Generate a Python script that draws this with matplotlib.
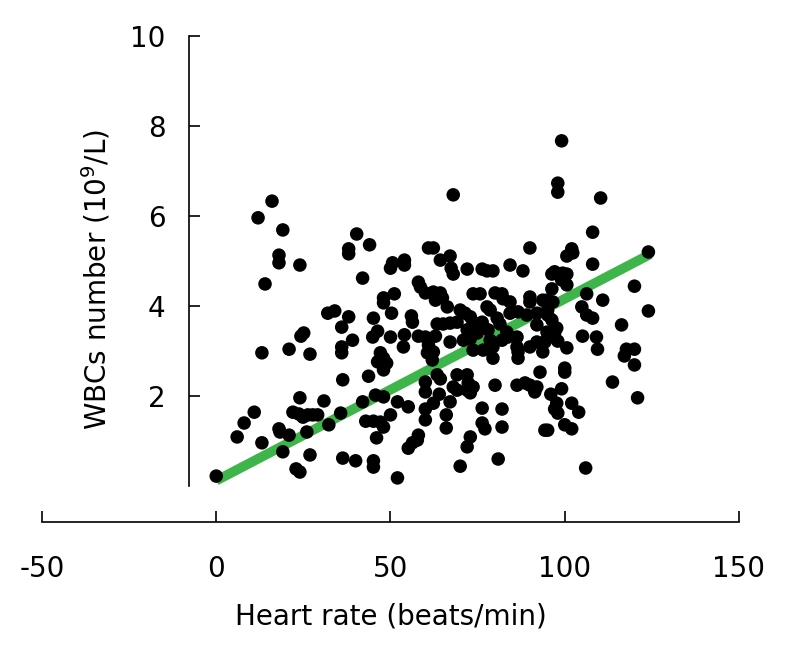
import numpy as np
from matplotlib import pyplot as plt

# heart rate (beats/min) and WBCs number (10^9/L)
heart_rate = [
    0, 6, 8, 10.9, 13.1, 18, 18.3, 20.9, 19.1, 24, 22, 23.7, 24.9, 26.3, 27.7, 26, 26.9, 22.9, 24,
    16, 12, 19.1, 18, 18, 24, 14, 24.3, 25.1, 13.1, 20.9, 26.9,
    40.3, 44, 38, 60.9, 68, 62.3, 90, 99.1, 98, 98, 110.3, 108, 102, 124,
    38, 50.6, 50, 54, 54, 42, 58, 58.6, 60, 48, 48, 51.1, 32, 34, 38, 36, 45.1, 50.3, 56, 56.3,
    46.3, 44.9, 50, 54, 58, 60, 60.9, 39.1, 36, 36, 53.7, 47.1, 48, 46.3, 48.9, 60.6,
    64.3, 67.1, 67.4, 68, 72, 76.3, 77.7, 79.4, 84.3, 88,
    62.3, 64.3, 64.9, 62.9, 73.7, 75.7, 80, 82, 82.3, 84.3, 90, 90, 93.7,
    66.3, 70, 71.4, 77.7, 78.6, 84.3, 86.6, 89.1, 92,
    63.4, 65.1, 67.1, 69.1, 72.9, 73.7, 76.3, 80.6, 81.4, 72, 73.7, 74.9, 78, 83.4, 92,
    62.9, 67.1, 70.9, 72.9, 78.6, 82, 83.7, 86.3, 92, 94.3,
    62.3, 73.7, 76.6, 79.4, 86.3, 86.6, 90, 79.4, 86.6, 93.7, 62,
    100.6, 102.3, 108, 96.3, 97.1, 99.4, 100.6, 99.1, 100.6, 96.3, 120, 106.3, 110.9, 94.9, 96.6,
    104.9, 106.3, 108, 95.1, 95.1, 96.3, 124, 116.3, 97.7, 97.1, 94.9, 95.1, 105.1, 109.1, 98,
    100.6, 109.4, 117.7, 120, 117.1, 120, 100,
    36.3, 43.7, 48, 60, 60, 30.9, 42, 45.7, 48, 52, 55.1, 60, 35.7, 29.1, 50, 42.9, 45.1, 47.1,
    48, 60, 32.3, 46, 58, 57.7, 56.3, 55.1, 36.3, 40, 45.1, 45.1, 52,
    63.4, 69.1, 72, 64.3, 72.3, 73.7, 72, 72.9, 68, 69.1, 80, 86.3, 88.6, 90, 92, 91.4, 92.9,
    64, 67.1, 62.3, 76.3, 82, 66, 76.3, 77.1, 82, 66, 72.9, 72, 94.3, 80.9, 70,
    100, 113.7, 96, 99.1, 120.9, 97.7, 97.1, 98, 102, 104, 95.1, 100, 102, 106,
]
wbc = [
    0.22, 1.09, 1.4, 1.64, 0.96, 1.27, 1.2, 1.13, 0.76, 1.96, 1.64, 1.6, 1.53, 1.58, 1.58, 1.2, 0.69, 0.38, 0.31,
    6.33, 5.96, 5.69, 5.13, 4.96, 4.91, 4.49, 3.33, 3.4, 2.96, 3.04, 2.93,
    5.6, 5.36, 5.27, 5.29, 6.47, 5.29, 5.29, 7.67, 6.73, 6.53, 6.4, 5.64, 5.27, 5.2,
    5.16, 4.96, 4.84, 5.02, 4.91, 4.62, 4.53, 4.42, 4.29, 4.18, 4.07, 4.27, 3.84, 3.89, 3.76, 3.53, 3.73, 3.84, 3.78, 3.64,
    3.44, 3.31, 3.31, 3.36, 3.33, 3.31, 3.13, 3.24, 3.09, 2.96, 3.09, 2.96, 2.84, 2.76, 2.73, 2.96,
    5.02, 5.11, 4.84, 4.71, 4.82, 4.82, 4.78, 4.78, 4.91, 4.78,
    4.31, 4.29, 4.18, 4.13, 4.27, 4.27, 4.29, 4.27, 4.16, 4.09, 4.2, 4.09, 4.13,
    3.98, 3.91, 3.84, 3.98, 3.91, 3.84, 3.87, 3.8, 3.84,
    3.6, 3.6, 3.62, 3.64, 3.76, 3.64, 3.64, 3.73, 3.6, 3.47, 3.47, 3.4, 3.47, 3.42, 3.58,
    3.33, 3.2, 3.24, 3.27, 3.24, 3.24, 3.31, 3.31, 3.2, 3.2,
    2.98, 3.02, 3.02, 3.09, 3.09, 2.98, 3.09, 2.84, 2.84, 2.98, 2.8,
    5.11, 5.18, 4.93, 4.71, 4.76, 4.73, 4.71, 4.58, 4.47, 4.38, 4.44, 4.27, 4.13, 4.13, 4.09,
    3.98, 3.8, 3.73, 3.91, 3.8, 3.69, 3.89, 3.58, 3.51, 3.4, 3.42, 3.29, 3.33, 3.31, 3.22,
    3.07, 3.04, 3.04, 3.04, 2.89, 2.69, 2.62,
    2.36, 2.44, 2.58, 2.31, 2.09, 1.89, 1.87, 2.02, 1.98, 1.87, 1.76, 1.71, 1.62, 1.58, 1.58, 1.44, 1.44, 1.42,
    1.31, 1.47, 1.36, 1.07, 1.13, 1.02, 0.96, 0.84, 0.62, 0.56, 0.56, 0.42, 0.18,
    2.47, 2.47, 2.47, 2.38, 2.29, 2.2, 2.13, 2.07, 2.2, 2.13, 2.24, 2.24, 2.29, 2.24, 2.2, 2.09, 2.53,
    2.04, 1.87, 1.84, 1.73, 1.71, 1.58, 1.4, 1.27, 1.31, 1.29, 1.09, 0.87, 1.24, 0.6, 0.44,
    2.53, 2.31, 2.04, 2.16, 1.96, 1.84, 1.71, 1.62, 1.84, 1.64, 1.24, 1.36, 1.27, 0.4,
]

# fit line shown in green
fit_x = [0, 124.5]
fit_y = [0.12, 5.15]

x_ticks = [-50, 0, 50, 100, 150]
y_ticks = [2, 4, 6, 8, 10]

plt.rcParams['font.family'] = ['DejaVu Sans']
plt.rcParams['axes.unicode_minus'] = False

fig = plt.figure(figsize=(7.87, 6.56), dpi=100)
ax = fig.add_axes([42 / 787, 1 - 522 / 656, (739 - 42) / 787, (522 - 36) / 656])

ax.plot(fit_x, fit_y, color='#3db54a', linewidth=7, solid_capstyle='butt', zorder=1)
ax.scatter(heart_rate, wbc, s=95, color='black', edgecolors='none', zorder=2)

ax.set_xlim(-50, 150)
ax.set_ylim(-0.8, 10)

for s in ['top', 'right']:
    ax.spines[s].set_visible(False)
ax.spines['left'].set_position(('data', -7.75))
ax.spines['left'].set_bounds(0, 10)
ax.spines['bottom'].set_bounds(-50, 150)
ax.spines['left'].set_linewidth(1.2)
ax.spines['bottom'].set_linewidth(1.2)

ax.set_xticks(x_ticks)
ax.set_yticks(y_ticks)
ax.tick_params(direction='in', length=8, width=1.2, labelsize=20)
ax.tick_params(axis='x', pad=24)
ax.tick_params(axis='y', pad=17)

ax.set_xlabel('Heart rate (beats/min)', fontsize=20, labelpad=14)
ax.set_ylabel('WBCs number (10$^{9}$/L)', fontsize=20, labelpad=13)

fig.savefig('out.png', dpi=100)
